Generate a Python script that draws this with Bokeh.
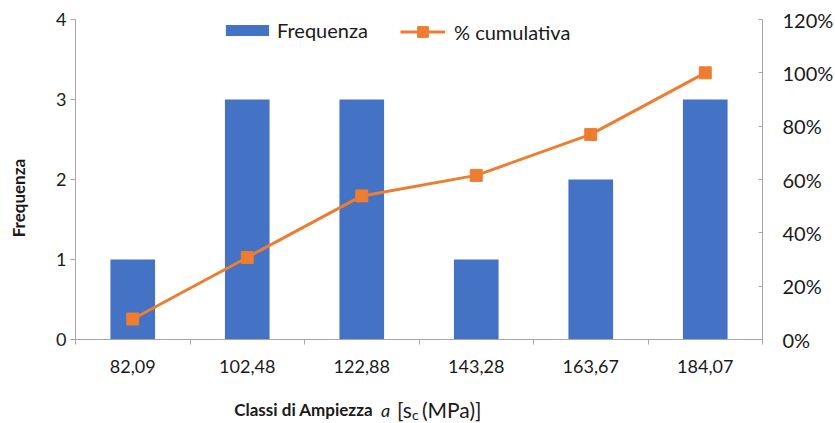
from bokeh.plotting import figure
from bokeh.layouts import column
from bokeh.models import (Range1d, LinearAxis, FixedTicker, NumeralTickFormatter,
                          Legend, LegendItem, ColumnDataSource)
from bokeh.core.properties import value
from bokeh.embed import file_html
from bokeh.resources import INLINE
import numpy as np

categories = ["82,09", "102,48", "122,88", "143,28", "163,67", "184,07"]
frequenza = [1, 3, 3, 1, 2, 3]
cumulativa = [0.0769, 0.3077, 0.5385, 0.6154, 0.7692, 1.0]
freq_ticks = [0, 1, 2, 3, 4]
pct_ticks = [0.0, 0.2, 0.4, 0.6, 0.8, 1.0, 1.2]

FONT = "Lato"
TXT = "#1a1a1a"
AX = "#a6a6a6"
BLUE = "#4472C4"
ORANGE = "#ED7D31"

n = len(categories)
xc = np.arange(n) + 0.5
src = ColumnDataSource(dict(x=xc, freq=frequenza, cum=cumulativa))

p = figure(frame_width=687, frame_height=320, output_backend="svg", toolbar_location=None,
           x_range=Range1d(0, n), y_range=Range1d(0, 4),
           min_border_left=75, min_border_right=73, min_border_top=19, min_border_bottom=53,
           x_axis_type=None, y_axis_type=None)
p.outline_line_color = None
p.background_fill_color = "white"
p.extra_y_ranges = {"pct": Range1d(0, 1.2)}

# bottom axis: labels at category centres, tick marks at boundaries
xaxis = LinearAxis(ticker=FixedTicker(ticks=list(xc), minor_ticks=list(range(n + 1))),
                   major_label_overrides={float(x): c for x, c in zip(xc, categories)})
xaxis.axis_line_color = AX
xaxis.major_tick_out = 0
xaxis.major_tick_in = 0
xaxis.minor_tick_out = 5
xaxis.minor_tick_in = 0
xaxis.minor_tick_line_color = AX
xaxis.major_label_text_font = FONT
xaxis.major_label_text_font_size = "18px"
xaxis.major_label_text_color = TXT
xaxis.major_label_standoff = 15
p.add_layout(xaxis, "below")

# trailing no-break spaces nudge the centred title slightly downwards, as in the original
yaxis = LinearAxis(ticker=FixedTicker(ticks=freq_ticks), axis_label="Frequenza" + "\u00a0" * 9)
yaxis.axis_line_color = AX
yaxis.major_tick_line_color = AX
yaxis.major_tick_out = 5
yaxis.major_tick_in = 0
yaxis.minor_tick_line_color = None
yaxis.major_label_text_font = FONT
yaxis.major_label_text_font_size = "18px"
yaxis.major_label_text_color = TXT
yaxis.major_label_standoff = 4
yaxis.axis_label_text_font = FONT
yaxis.axis_label_text_font_style = "bold"
yaxis.axis_label_text_font_size = "17px"
yaxis.axis_label_text_color = TXT
yaxis.axis_label_standoff = 24
p.add_layout(yaxis, "left")

raxis = LinearAxis(y_range_name="pct", ticker=FixedTicker(ticks=pct_ticks),
                   formatter=NumeralTickFormatter(format="0%"))
raxis.axis_line_color = AX
raxis.major_tick_line_color = AX
raxis.major_tick_in = 4
raxis.major_tick_out = 0
raxis.minor_tick_line_color = None
raxis.major_label_text_font = FONT
raxis.major_label_text_font_size = "20px"
raxis.major_label_text_color = TXT
raxis.major_label_standoff = 20
p.add_layout(raxis, "right")

bars = p.vbar(x="x", top="freq", width=0.39, source=src, fill_color=BLUE, line_color=None)
ln = p.line(x="x", y="cum", y_range_name="pct", source=src, line_color=ORANGE, line_width=3)
sc = p.scatter(x="x", y="cum", y_range_name="pct", source=src, marker="square", size=12,
               fill_color=ORANGE, line_color=ORANGE)

common = dict(orientation="horizontal", border_line_color=None, background_fill_alpha=0,
              padding=0, margin=0, label_text_font=FONT,
              label_text_font_size="20px", label_text_color=TXT)
leg1 = Legend(items=[LegendItem(label="Frequenza", renderers=[bars])],
              location=(145, 297), glyph_width=54, glyph_height=14, label_standoff=3, **common)
leg2 = Legend(items=[LegendItem(label="% cumulativa", renderers=[ln, sc])],
              location=(325, 294), glyph_width=45, glyph_height=27, label_standoff=9, **common)
p.add_layout(leg1)
p.add_layout(leg2)

# x-axis title strip (mixed styles), drawn in a small figure below
t = figure(width=835, height=31, output_backend="svg", toolbar_location=None,
           x_range=Range1d(75, 762), y_range=Range1d(0, 31), min_border=0,
           x_axis_type=None, y_axis_type=None)
t.outline_line_color = None
t.grid.visible = False
pieces = [
    ("Classi di Ampiezza", 234, 14, "bold", "17px"),
    ("a", 381, 14, "italic", "18px"),
    ("[s", 397, 14, "normal", "21px"),
    ("c", 412, 9, "normal", "14px"),
    ("(MPa)]", 422, 14, "normal", "21px"),
]
for txt, xx, yy, style, size in pieces:
    t.text(x=[xx], y=[yy], text=[txt], text_font=value(FONT), text_font_style=style,
           text_font_size=size, text_color=TXT, text_baseline="middle", text_align="left")

open("out.html", "w").write(file_html(column(p, t, spacing=0), INLINE))
